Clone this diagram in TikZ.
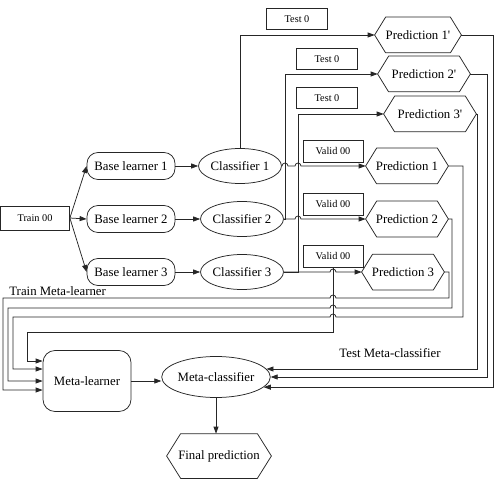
\documentclass[tikz,border=0pt]{standalone}
\usepackage{fontspec}
\setmainfont{Liberation Serif}[Ligatures=TeXOff]
\usetikzlibrary{arrows.meta,calc,shapes.geometric}
\begin{document}
\begin{tikzpicture}[x=1pt,y=-1pt,
  line width=0.75pt, color=black!85,
  every node/.style={inner sep=0pt, text=black, font=\fontsize{12.8}{15}\selectfont},
  small/.style={draw, font=\fontsize{10.3}{12}\selectfont},
  bl/.style={draw, rounded corners=11pt, minimum width=88pt, minimum height=27pt},
  cl/.style={draw, ellipse, minimum width=79pt, minimum height=35pt},
  pr/.style={minimum height=35pt},
  arr/.style={-{Triangle[length=7pt,width=5pt]}}
]
\useasboundingbox (0,0) rectangle (495,481);

% nodes
\node[small, minimum width=69pt, minimum height=24pt] (tr) at (35,218) {Train 00};
\node[bl] (b1) at (131,166) {Base learner 1};
\node[bl] (b2) at (131,219) {Base learner 2};
\node[bl] (b3) at (131,272) {Base learner 3};
\node[cl] (c1) at (240,166) {Classifier 1};
\node[cl] (c2) at (242,219) {Classifier 2};
\node[cl] (c3) at (242,272) {Classifier 3};
\node[pr, minimum width=86pt] (p1p) at (418,35) {Prediction 1'};
\node[pr, minimum width=92pt] (p2p) at (424,74) {Prediction 2'};
\node[pr, minimum width=92pt] (p3p) at (430,114) {Prediction 3'};
\node[pr, minimum width=82pt] (p1) at (407,166) {Prediction 1};
\node[pr, minimum width=82pt] (p2) at (407,219) {Prediction 2};
\node[pr, minimum width=82pt] (p3) at (403,272) {Prediction 3};
\node[small, minimum width=61pt, minimum height=21pt] (t1) at (297,19) {Test 0};
\node[small, minimum width=61pt, minimum height=21pt] (t2) at (327,59) {Test 0};
\node[small, minimum width=61pt, minimum height=21pt] (t3) at (327,98) {Test 0};
\node[small, minimum width=60pt, minimum height=22pt] (v1) at (333,151) {Valid 00};
\node[small, minimum width=60pt, minimum height=22pt] (v2) at (333,204) {Valid 00};
\node[small, minimum width=60pt, minimum height=22pt] (v3) at (333,256) {Valid 00};
\node[draw, rounded corners=12pt, minimum width=88pt, minimum height=61pt] (ml) at (87,381) {Meta-learner};
\node[cl, minimum width=98pt, minimum height=41pt] (mc) at (216,377) {Meta-classifier};
\node[pr, minimum width=104pt, minimum height=44pt] (fp) at (219,456) {Final prediction};
\node[anchor=west] (tml) at (9,291) {Train Meta-learner};
\node (tmc) at (390,353) {Test Meta-classifier};

% hexagon outlines
\foreach \n/\d in {p1p/11,p2p/11,p3p/11,p1/11,p2/11,p3/11,fp/14}
  \draw ([xshift=\d pt]\n.north west) -- ([xshift=-\d pt]\n.north east) -- (\n.east)
    -- ([xshift=-\d pt]\n.south east) -- ([xshift=\d pt]\n.south west) -- (\n.west) -- cycle;

% connectors
\draw[arr] (tr.east) -- (b1.west);
\draw[arr] (tr.east) -- (b2.west);
\draw[arr] (tr.east) -- (b3.west);
\draw[arr] (b1.east) -- (c1.west);
\draw[arr] (b2.east) -- (c2.west);
\draw[arr] (b3.east) -- (c3.west);

\draw[arr] (c1.north) |- (p1p.west);
\draw[arr] (c1.east) -- (282,166) arc[start angle=180,end angle=0,radius=3pt]
  -- (295,166) arc[start angle=180,end angle=0,radius=3pt] -- (p1.west);
\draw[arr] (c2.east) -- (c2.east -| 285,0) |- (p2p.west);
\draw[arr] (c2.east) -- (295,219) arc[start angle=180,end angle=0,radius=3pt] -- (p2.west);
\draw[arr] (c3.east) -- (c3.east -| 298,0) |- (p3p.west);
\draw[arr] (c3.east) -- (330,272) arc[start angle=180,end angle=0,radius=3pt] -- (p3.west);

\draw[arr] (p3.east) -- (p3.east -| 449,0) -- (449,298) -- (336,298)
  arc[start angle=0,end angle=180,radius=3pt] -- (3,298) -- (3,390) -- (ml.west |- 0,390);
\draw[arr] (p2.east) -- (p2.east -| 452,0) -- (452,308) -- (336,308)
  arc[start angle=0,end angle=180,radius=3pt] -- (8,308) -- (8,381) -- (ml.west |- 0,381);
\draw[arr] (p1.east) -- (p1.east -| 463,0) -- (463,317) -- (336,317)
  arc[start angle=0,end angle=180,radius=3pt] -- (13,317) -- (13,369) -- (ml.west |- 0,369);
\draw[arr] (v3.south) -- (v3.south |- 0,332) -- (27,332) -- (27,361) -- (ml.west |- 0,361);

\draw[arr] (p3p.east) -- (p3p.east -| 477,0) |- (mc.9);
\draw[arr] (p2p.east) -- (p2p.east -| 487,0) |- (mc.east);
\draw[arr] (p1p.east) -- (p1p.east -| 493,0) |- (mc.-12);

\draw[arr] (ml.east) -- (ml.east -| mc.west);
\draw[arr] (mc.south) -- (mc.south |- fp.north);
\end{tikzpicture}
\end{document}
